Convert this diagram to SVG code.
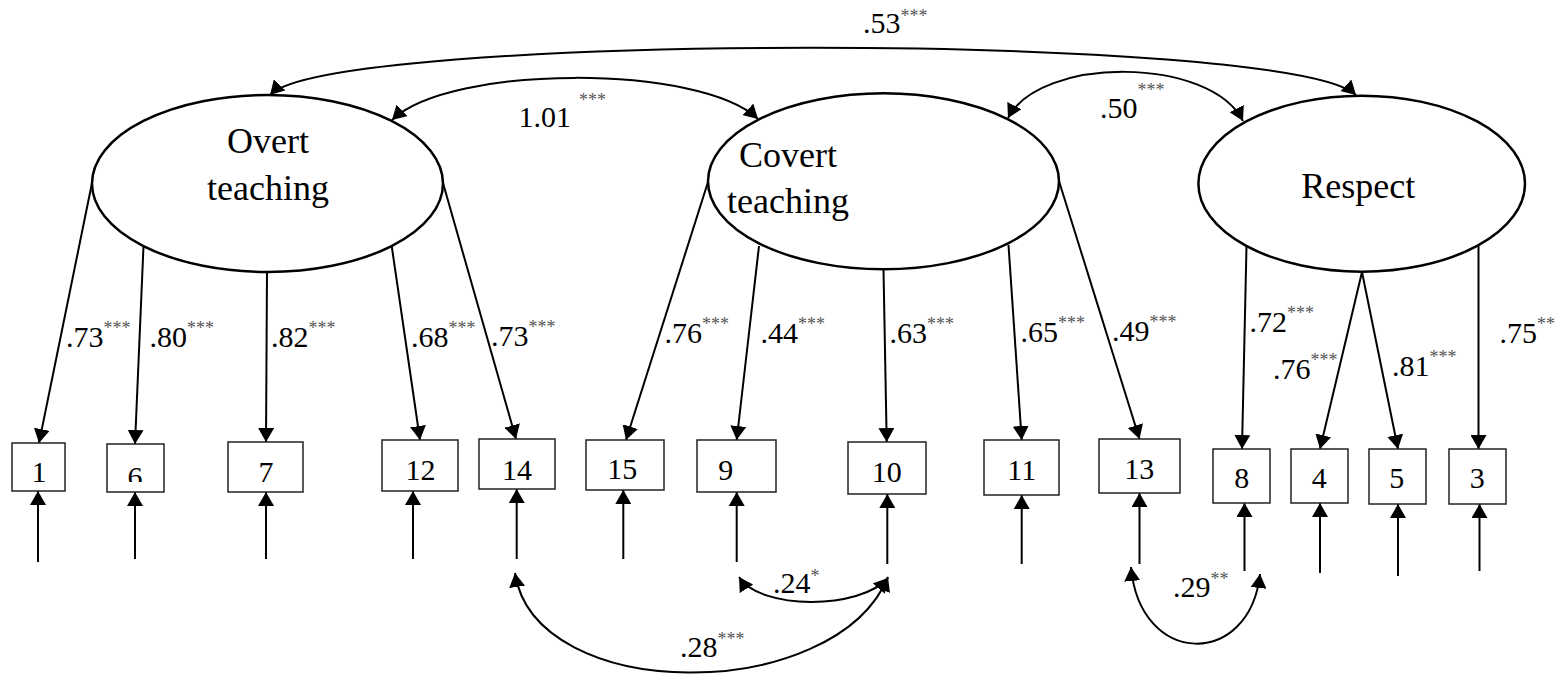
<svg xmlns="http://www.w3.org/2000/svg" width="1564" height="674" viewBox="0 0 1564 674">
<style>
text{font-family:"Liberation Serif","Times New Roman",serif;fill:#000}
.lat{fill:#fff;stroke:#000;stroke-width:2.5}
.box{fill:#fff;stroke:#222;stroke-width:1.5}
.num{font-size:30px;text-anchor:middle}
.latt{font-size:36px;text-anchor:middle}
.lbl{font-size:30px}
.sup{font-size:18px;fill:#555}
.c{fill:none;stroke:#000;stroke-width:2}
.a{marker-end:url(#ah)}
.d{marker-end:url(#ah);marker-start:url(#ahs)}
</style>
<defs>
<marker id="ah" markerUnits="userSpaceOnUse" viewBox="0 0 14 16" refX="14" refY="8" markerWidth="14" markerHeight="16" orient="auto"><path d="M0,0 L14,8 L0,16 Z" fill="#000"/></marker>
<marker id="ahs" markerUnits="userSpaceOnUse" viewBox="0 0 14 16" refX="14" refY="8" markerWidth="14" markerHeight="16" orient="auto-start-reverse"><path d="M0,0 L14,8 L0,16 Z" fill="#000"/></marker>
<clipPath id="clip6"><rect x="107" y="444" width="57" height="38"/></clipPath>
</defs>
<rect width="1564" height="674" fill="#fff"/>

<g id="connectors">
<path class="c d" d="M270,95 C330,32 1290,32 1356,95"/>
<path class="c d" d="M392,120 C450,64 700,64 758,119"/>
<path class="c d" d="M1008,118 C1040,56 1210,56 1243,121"/>
<line class="c a" x1="92" y1="183" x2="39" y2="443"/>
<line class="c a" x1="143.5" y1="246" x2="135" y2="444"/>
<line class="c a" x1="267" y1="272" x2="266" y2="442"/>
<line class="c a" x1="391.7" y1="246" x2="420" y2="440"/>
<line class="c a" x1="443" y1="183" x2="516" y2="439"/>
<line class="c a" x1="708" y1="182" x2="626" y2="440"/>
<line class="c a" x1="759" y1="246" x2="736.7" y2="440"/>
<line class="c a" x1="883.5" y1="269.5" x2="886.7" y2="442"/>
<line class="c a" x1="1008.5" y1="245" x2="1021.7" y2="440"/>
<line class="c a" x1="1059" y1="181" x2="1139.5" y2="439"/>
<line class="c a" x1="1246.5" y1="246" x2="1242" y2="449"/>
<line class="c a" x1="1362" y1="272" x2="1320" y2="449"/>
<line class="c a" x1="1362" y1="272" x2="1398" y2="449"/>
<line class="c a" x1="1478.5" y1="245" x2="1478.5" y2="449"/>
<line class="c a" x1="38" y1="562" x2="38" y2="491"/>
<line class="c a" x1="135" y1="559" x2="135" y2="492"/>
<line class="c a" x1="266" y1="559" x2="266" y2="492"/>
<line class="c a" x1="413" y1="559" x2="413" y2="491"/>
<line class="c a" x1="516.7" y1="559" x2="516.7" y2="489"/>
<line class="c a" x1="623.3" y1="559" x2="623.3" y2="490"/>
<line class="c a" x1="736.7" y1="562" x2="736.7" y2="492"/>
<line class="c a" x1="887.3" y1="564" x2="887.3" y2="494"/>
<line class="c a" x1="1021.7" y1="564" x2="1021.7" y2="495"/>
<line class="c a" x1="1139.5" y1="564" x2="1139.5" y2="493"/>
<line class="c a" x1="1244.5" y1="571" x2="1244.5" y2="503"/>
<line class="c a" x1="1320" y1="573" x2="1320" y2="503"/>
<line class="c a" x1="1398" y1="576" x2="1398" y2="504"/>
<line class="c a" x1="1479.5" y1="571" x2="1479.5" y2="504"/>
<path class="c d" d="M515,573 C535,705 835,705 888,577"/>
<path class="c d" d="M739,577 C760,610 860,610 888,578"/>
<path class="c d" d="M1131,567 C1140,668 1250,668 1260,574"/>
</g>

<g id="labels">
<text class="lbl" x="863" y="33">.53<tspan class="sup" dy="-11">***</tspan></text>
<text class="lbl" x="518.5" y="126.7">1.01</text>
<text class="sup" x="579" y="105.5">***</text>
<text class="lbl" x="1100" y="118.3">.50</text>
<text class="sup" x="1137.5" y="95.5">***</text>
<text class="lbl" x="66" y="347">.73<tspan class="sup" dy="-13">***</tspan></text>
<text class="lbl" x="149.5" y="346.7">.80<tspan class="sup" dy="-13">***</tspan></text>
<text class="lbl" x="271" y="346.7">.82<tspan class="sup" dy="-13">***</tspan></text>
<text class="lbl" x="411" y="347">.68<tspan class="sup" dy="-13">***</tspan></text>
<text class="lbl" x="491" y="346">.73<tspan class="sup" dy="-13">***</tspan></text>
<text class="lbl" x="664.5" y="343.3">.76<tspan class="sup" dy="-13">***</tspan></text>
<text class="lbl" x="760.5" y="343.3">.44<tspan class="sup" dy="-13">***</tspan></text>
<text class="lbl" x="889.5" y="343.3">.63<tspan class="sup" dy="-13">***</tspan></text>
<text class="lbl" x="1020.5" y="342">.65<tspan class="sup" dy="-13">***</tspan></text>
<text class="lbl" x="1112" y="340.7">.49<tspan class="sup" dy="-13">***</tspan></text>
<text class="lbl" x="1249.5" y="331.7">.72<tspan class="sup" dy="-13">***</tspan></text>
<text class="lbl" x="1273" y="379.3">.76<tspan class="sup" dy="-13">***</tspan></text>
<text class="lbl" x="1392" y="376">.81<tspan class="sup" dy="-13">***</tspan></text>
<text class="lbl" x="1499.5" y="343.3">.75<tspan class="sup" dy="-13">**</tspan></text>
<text class="lbl" x="773" y="593">.24<tspan class="sup" dy="-11">*</tspan></text>
<text class="lbl" x="680" y="656.7">.28<tspan class="sup" dy="-12">***</tspan></text>
<text class="lbl" x="1173" y="596.7">.29<tspan class="sup" dy="-12">**</tspan></text>
</g>

<g id="overt">
<ellipse class="lat" cx="267.5" cy="183.5" rx="175.5" ry="88.5"/>
<text class="latt" x="268" y="153.3">Overt</text>
<text class="latt" x="268" y="200">teaching</text>
</g>
<g id="covert">
<ellipse class="lat" cx="883.5" cy="181.3" rx="175.5" ry="88"/>
<text class="latt" x="788" y="166.7">Covert</text>
<text class="latt" x="788" y="213.3">teaching</text>
</g>
<g id="respect">
<ellipse class="lat" cx="1361.7" cy="183.7" rx="163.3" ry="88"/>
<text class="latt" x="1358.3" y="198.3">Respect</text>
</g>

<g id="item1"><rect class="box" x="12" y="443" width="53" height="48"/><text class="num" x="39" y="481.7">1</text></g>
<g id="item6"><rect class="box" x="107" y="444" width="57" height="48"/><text class="num" x="135" y="487" clip-path="url(#clip6)">6</text></g>
<g id="item7"><rect class="box" x="228" y="442" width="75" height="50"/><text class="num" x="266" y="481.7">7</text></g>
<g id="item12"><rect class="box" x="382" y="440" width="76" height="51"/><text class="num" x="420.5" y="480">12</text></g>
<g id="item14"><rect class="box" x="479" y="439" width="76" height="50"/><text class="num" x="517" y="480">14</text></g>
<g id="item15"><rect class="box" x="586" y="440" width="78" height="50"/><text class="num" x="622.3" y="479">15</text></g>
<g id="item9"><rect class="box" x="697" y="440" width="79" height="52"/><text class="num" x="725.7" y="480">9</text></g>
<g id="item10"><rect class="box" x="848" y="442" width="78" height="52"/><text class="num" x="886.7" y="482.3">10</text></g>
<g id="item11"><rect class="box" x="984" y="440" width="75" height="55"/><text class="num" x="1021.7" y="480">11</text></g>
<g id="item13"><rect class="box" x="1099" y="439" width="81" height="54"/><text class="num" x="1139.3" y="479">13</text></g>
<g id="item8"><rect class="box" x="1213" y="449" width="57" height="54"/><text class="num" x="1241.7" y="488.3">8</text></g>
<g id="item4"><rect class="box" x="1291" y="449" width="57" height="54"/><text class="num" x="1319.3" y="488">4</text></g>
<g id="item5"><rect class="box" x="1369" y="449" width="57" height="55"/><text class="num" x="1396.7" y="488">5</text></g>
<g id="item3"><rect class="box" x="1449" y="449" width="57" height="55"/><text class="num" x="1477.3" y="488">3</text></g>
</svg>
